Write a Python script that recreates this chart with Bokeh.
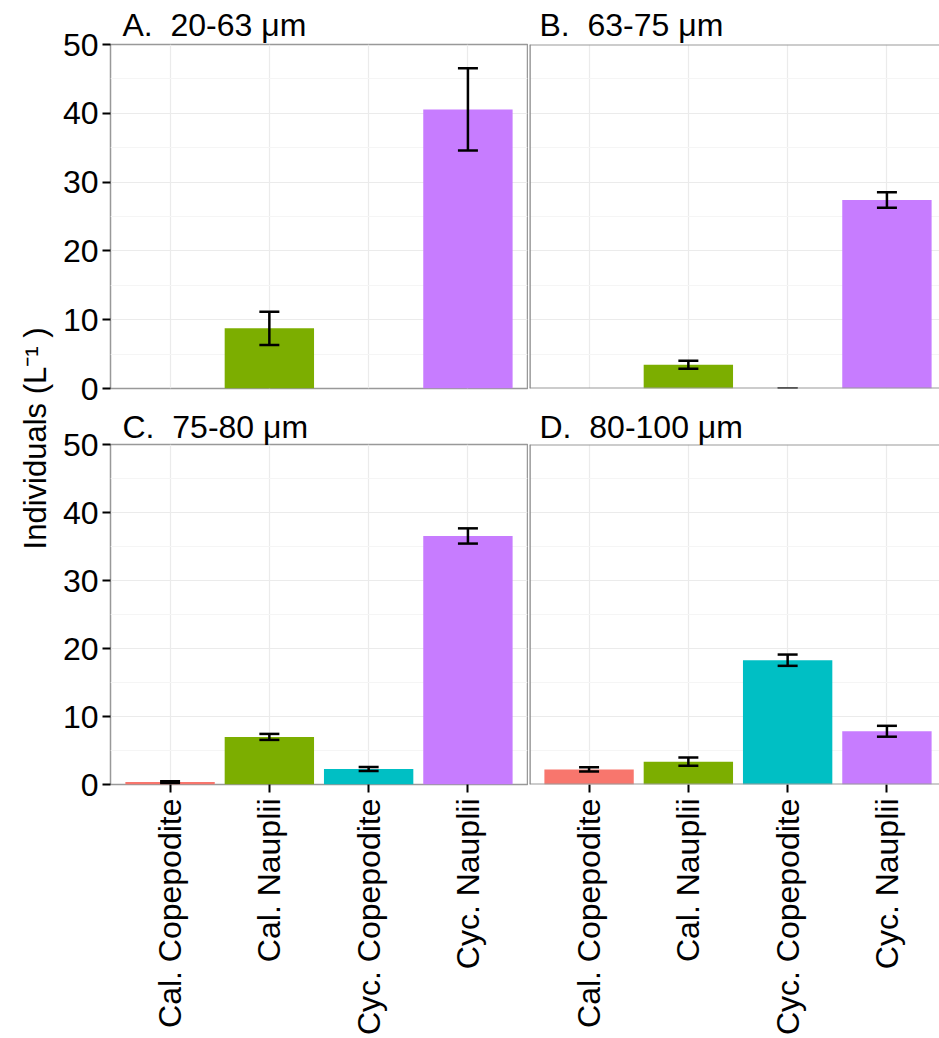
import math
import numpy as np
from bokeh.plotting import figure
from bokeh.models import (ColumnDataSource, FixedTicker, Whisker, TeeHead,
                          Span, Label)
from bokeh.layouts import row, column
from bokeh.embed import file_html
from bokeh.resources import INLINE

# Zooplankton counts per size fraction (mean and standard error, individuals per litre)
categories = ["Cal. Copepodite", "Cal. Nauplii", "Cyc. Copepodite", "Cyc. Nauplii"]
colors = ["#F8766D", "#7CAE00", "#00BFC4", "#C77CFF"]

panel_titles = ["A.\u00a0 20-63 \u03bcm", "B.\u00a0 63-75 \u03bcm",
                "C.\u00a0 75-80 \u03bcm", "D.\u00a0 80-100 \u03bcm"]

mean_a = [np.nan, 8.75, np.nan, 40.57]
se_a = [np.nan, 2.42, np.nan, 5.99]
mean_b = [np.nan, 3.44, 0.0, 27.4]
se_b = [np.nan, 0.58, 0.0, 1.14]
mean_c = [0.35, 7.0, 2.28, 36.55]
se_c = [0.12, 0.44, 0.29, 1.12]
mean_d = [2.22, 3.36, 18.28, 7.83]
se_d = [0.32, 0.6, 0.83, 0.8]

y_ticks = [0, 10, 20, 30, 40, 50]
y_minor = [5, 15, 25, 35, 45]

FONT = "Liberation Sans"
FSIZE = "32px"
BORDER = "#999999"
GRID = "#EBEBEB"
GRID_MINOR = "#F5F5F5"

UNIT_PX = 417 / 4.2  # pixels per category step in the left panels


def make_panel(title, means, ses, width, height, mb_left, mb_right, mb_top,
               mb_bottom, x_end, show_y, show_x, framed, title_offset, standoff):
    p = figure(width=width, height=height, x_range=(0.4, x_end), y_range=(0, 50),
               output_backend="svg", toolbar_location=None,
               min_border_left=mb_left, min_border_right=mb_right,
               min_border_top=mb_top, min_border_bottom=mb_bottom)
    p.background_fill_color = "white"
    p.border_fill_color = "white"

    # title strip text
    p.title.text = title
    p.title.text_font = FONT
    p.title.text_font_size = FSIZE
    p.title.text_font_style = "normal"
    p.title.text_color = "black"
    p.title.align = "left"
    p.title.offset = title_offset
    p.title.standoff = standoff

    # bars and error bars, skipping missing groups
    xs, tops, cols, lows, ups = [], [], [], [], []
    for i, (m, s) in enumerate(zip(means, ses)):
        if np.isnan(m):
            continue
        xs.append(i + 1)
        tops.append(m)
        cols.append(colors[i])
        lows.append(m - s)
        ups.append(m + s)
    src = ColumnDataSource(dict(x=xs, top=tops, color=cols, lower=lows, upper=ups))
    p.vbar(x="x", top="top", width=0.9, bottom=0, fill_color="color",
           line_color=None, source=src)
    whisk = Whisker(base="x", lower="lower", upper="upper", source=src,
                    level="annotation",
                    line_color="black", line_width=2.5,
                    upper_head=TeeHead(size=20, line_color="black", line_width=2.5),
                    lower_head=TeeHead(size=20, line_color="black", line_width=2.5))
    p.add_layout(whisk)

    # y axis
    p.yaxis.ticker = FixedTicker(ticks=y_ticks, minor_ticks=y_minor)
    p.yaxis.axis_line_color = None
    p.yaxis.minor_tick_line_color = None
    p.yaxis.major_tick_out = 8
    p.yaxis.major_tick_in = 0
    p.yaxis.major_tick_line_color = "black"
    p.yaxis.major_tick_line_width = 2
    p.yaxis.major_label_standoff = 4
    p.yaxis.major_label_text_font = FONT
    p.yaxis.major_label_text_font_size = FSIZE
    p.yaxis.major_label_text_color = "black"
    p.yaxis.visible = show_y

    # x axis
    p.xaxis.ticker = FixedTicker(ticks=[1, 2, 3, 4], minor_ticks=[])
    p.xaxis.major_label_overrides = {i + 1: c for i, c in enumerate(categories)}
    p.xaxis.major_label_orientation = math.pi / 2
    p.xaxis.axis_line_color = None
    p.xaxis.minor_tick_line_color = None
    p.xaxis.major_tick_out = 8
    p.xaxis.major_tick_in = 0
    p.xaxis.major_tick_line_color = "black"
    p.xaxis.major_tick_line_width = 2
    p.xaxis.major_label_standoff = 6
    p.xaxis.major_label_text_font = FONT
    p.xaxis.major_label_text_font_size = FSIZE
    p.xaxis.major_label_text_color = "black"
    p.xaxis.visible = show_x

    # grid
    p.xgrid.ticker = FixedTicker(ticks=[1, 2, 3, 4], minor_ticks=[])
    p.xgrid.grid_line_color = GRID
    p.xgrid.grid_line_width = 1.2
    p.ygrid.ticker = FixedTicker(ticks=y_ticks, minor_ticks=y_minor)
    p.ygrid.grid_line_color = GRID
    p.ygrid.grid_line_width = 1.2
    p.ygrid.minor_grid_line_color = GRID_MINOR
    p.ygrid.minor_grid_line_width = 1.2

    # panel border
    if framed:
        p.outline_line_color = BORDER
        p.outline_line_width = 1.5
    else:
        p.outline_line_color = None
        p.add_layout(Span(location=50, dimension="width", line_color=BORDER, line_width=2))
        p.add_layout(Span(location=0, dimension="width", line_color=BORDER, line_width=2))
        p.add_layout(Span(location=0.4, dimension="height", line_color="#888888",
                          line_width=2.5))
    return p


LABEL_W = 56
LEFT_W = 939 - 411 - LABEL_W
RIGHT_W = 411
TOP_H = 406
BOT_H = 1038 - TOP_H
right_end = 0.4 + (RIGHT_W - 1) / UNIT_PX

pa = make_panel(panel_titles[0], mean_a, se_a, LEFT_W, TOP_H, 110 - LABEL_W, 1, 44,
                TOP_H - 388, 4.6, True, False, True, 12, 4)
pb = make_panel(panel_titles[1], mean_b, se_b, RIGHT_W, TOP_H, 1, 0, 44,
                TOP_H - 388, right_end, False, False, False, 10, 4)
pc = make_panel(panel_titles[2], mean_c, se_c, LEFT_W, BOT_H, 110 - LABEL_W, 1,
                442 - TOP_H, BOT_H - (786 - TOP_H), 4.6, True, True, True, 12, 0)
pd = make_panel(panel_titles[3], mean_d, se_d, RIGHT_W, BOT_H, 1, 0,
                442 - TOP_H, BOT_H - (786 - TOP_H), right_end, False, True, False, 10, 0)

# shared y-axis title spanning both rows
lab = figure(width=LABEL_W, height=1038, x_range=(0, LABEL_W), y_range=(0, 1038),
             output_backend="svg", toolbar_location=None,
             min_border_left=0, min_border_right=0, min_border_top=0, min_border_bottom=0)
lab.axis.visible = False
lab.grid.visible = False
lab.outline_line_color = None
lab.add_layout(Label(x=35, y=1038 - 438, text="Individuals (L\u207b\u00b9 )",
                     angle=math.pi / 2, text_align="center", text_baseline="middle",
                     text_font=FONT, text_font_size="31px", text_color="black"))

layout = row(lab, column(row(pa, pb), row(pc, pd)))

open("out.html", "w").write(file_html(layout, INLINE))
